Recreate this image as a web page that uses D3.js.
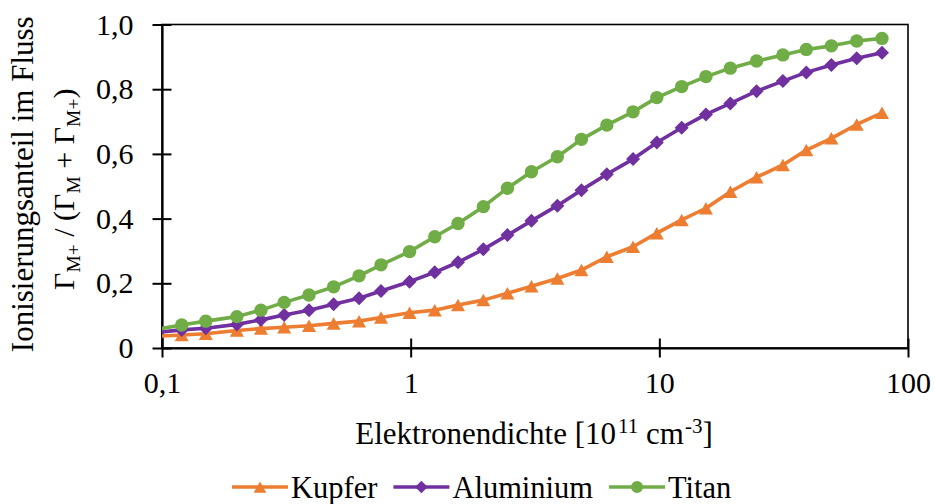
<!DOCTYPE html>
<html>
<head>
<meta charset="utf-8">
<script src="https://cdn.jsdelivr.net/npm/d3@7/dist/d3.min.js"></script>
<style>
  html, body { margin: 0; padding: 0; background: #fff; }
  svg { display: block; }
  text { font-family: "Liberation Serif", "Times New Roman", serif; fill: #000; }
</style>
</head>
<body>
<svg id="chart" width="935" height="504"></svg>
<script>
// Electron density [10^11 cm^-3] at which the ionised fraction was evaluated
const density = [0.095, 0.12, 0.15, 0.2, 0.25, 0.31, 0.39, 0.49, 0.62, 0.76, 0.99,
  1.25, 1.55, 1.96, 2.45, 3.06, 3.89, 4.86, 6.15, 7.84, 9.77,
  12.3, 15.4, 19.3, 24.6, 31.4, 39, 49.2, 62.2, 78.6];

// Ionised fraction of the metal flux  Γ_M+ / (Γ_M + Γ_M+)
const kupfer = [0.036, 0.040, 0.044, 0.054, 0.060, 0.064, 0.069, 0.076, 0.083, 0.094, 0.109,
  0.117, 0.133, 0.148, 0.169, 0.191, 0.215, 0.241, 0.282, 0.313, 0.355,
  0.396, 0.432, 0.483, 0.528, 0.566, 0.612, 0.648, 0.691, 0.727];
const aluminium = [0.048, 0.056, 0.061, 0.073, 0.087, 0.102, 0.117, 0.135, 0.154, 0.176, 0.205,
  0.234, 0.265, 0.305, 0.349, 0.393, 0.440, 0.488, 0.537, 0.584, 0.635,
  0.681, 0.722, 0.756, 0.794, 0.825, 0.852, 0.875, 0.896, 0.913];
const titan = [0.058, 0.071, 0.083, 0.097, 0.117, 0.141, 0.164, 0.189, 0.223, 0.257, 0.298,
  0.344, 0.385, 0.437, 0.494, 0.545, 0.591, 0.645, 0.689, 0.730, 0.774,
  0.808, 0.839, 0.865, 0.887, 0.906, 0.923, 0.934, 0.949, 0.957];

const seriesNames = ["Kupfer", "Aluminium", "Titan"];
const seriesColors = ["#ED7D31", "#7030A0", "#70AD47"];
const seriesShapes = ["triangle", "diamond", "circle"];

const xTicks = [0.1, 1, 10, 100];
const xTickLabels = ["0,1", "1", "10", "100"];
const yTicks = [0, 0.2, 0.4, 0.6, 0.8, 1.0];
const yTickLabels = ["0", "0,2", "0,4", "0,6", "0,8", "1,0"];

const series = seriesNames.map((name, i) => ({
  name,
  color: seriesColors[i],
  shape: seriesShapes[i],
  values: [kupfer, aluminium, titan][i].map((v, j) => ({ x: density[j], y: v }))
}));

const svg = d3.select("#chart");
const FS = 30;
const plot = { left: 162, right: 908, top: 24.5, bottom: 348 };

const x = d3.scaleLog().domain([0.1, 100]).range([plot.left, plot.right]);
const y = d3.scaleLinear().domain([0, 1]).range([plot.bottom, plot.top]);

// marker shapes, each centred on its data point
function markerPath(shape, k = 1) {
  if (shape === "triangle") {
    const w = 14 * k, h = 12.5 * k;
    return `M0,${-h / 2}L${w / 2},${h / 2}L${-w / 2},${h / 2}Z`;
  }
  if (shape === "diamond") {
    const s = 7 * k;
    return `M0,${-s}L${s},0L0,${s}L${-s},0Z`;
  }
  const r = 6.7 * k;
  return `M${r},0A${r},${r} 0 1,1 ${-r},0A${r},${r} 0 1,1 ${r},0Z`;
}

// plot area frame
svg.append("rect")
  .attr("x", plot.left).attr("y", plot.top)
  .attr("width", plot.right - plot.left).attr("height", plot.bottom - plot.top)
  .attr("fill", "none").attr("stroke", "#000").attr("stroke-width", 1.6);

svg.append("clipPath").attr("id", "plotClip")
  .append("rect")
  .attr("x", plot.left).attr("y", plot.top - 10)
  .attr("width", plot.right - plot.left + 10).attr("height", plot.bottom - plot.top + 10);

// axes with crossing tick marks
const xAxis = d3.axisBottom(x).tickValues(xTicks)
  .tickFormat((d, i) => xTickLabels[i]).tickSizeInner(9.5).tickSizeOuter(0).tickPadding(14);
const gx = svg.append("g").attr("transform", `translate(0,${plot.bottom})`).call(xAxis);
gx.select(".domain").attr("stroke-width", 2.2);
gx.selectAll(".tick line").attr("y1", -9.5).attr("stroke-width", 2);
gx.selectAll(".tick text").attr("font-size", FS).attr("font-family", "Liberation Serif");

const yAxis = d3.axisLeft(y).tickValues(yTicks)
  .tickFormat((d, i) => yTickLabels[i]).tickSizeInner(9.5).tickSizeOuter(0).tickPadding(19);
const gy = svg.append("g").attr("transform", `translate(${plot.left},0)`).call(yAxis);
gy.select(".domain").attr("stroke-width", 2.2);
gy.selectAll(".tick line").attr("x1", 9.5).attr("stroke-width", 2);
gy.selectAll(".tick text").attr("font-size", FS).attr("font-family", "Liberation Serif");

// series lines and markers
const line = d3.line().x(d => x(d.x)).y(d => y(d.y));
const gData = svg.append("g").attr("clip-path", "url(#plotClip)");
series.forEach(s => {
  gData.append("path")
    .datum(s.values)
    .attr("d", line)
    .attr("fill", "none")
    .attr("stroke", s.color)
    .attr("stroke-width", 3.6)
    .attr("stroke-linejoin", "round");
});
series.forEach(s => {
  gData.selectAll(null)
    .data(s.values.filter(d => d.x >= 0.1 && d.x <= 100))
    .join("path")
    .attr("transform", d => `translate(${x(d.x)},${y(d.y)})`)
    .attr("d", markerPath(s.shape))
    .attr("fill", s.color);
});

// x axis title
const xt = svg.append("text")
  .attr("x", (plot.left + plot.right) / 2 - 1).attr("y", 444)
  .attr("text-anchor", "middle").attr("font-size", 31);
const sup = 21;
xt.append("tspan").text("Elektronendichte [10");
xt.append("tspan").attr("font-size", sup).attr("dy", -11).attr("dx", 2).text("11");
xt.append("tspan").attr("dy", 11).text(" cm");
xt.append("tspan").attr("font-size", sup).attr("dy", -11).attr("dx", 1).text("-3");
xt.append("tspan").attr("dy", 11).text("]");

// y axis title, two lines
const cy = (plot.top + plot.bottom) / 2;
svg.append("text")
  .attr("transform", `translate(33,${cy - 2}) rotate(-90)`)
  .attr("text-anchor", "middle").attr("font-size", 31)
  .text("Ionisierungsanteil im Fluss");
const yt2 = svg.append("text")
  .attr("transform", `translate(74,${cy + 3}) rotate(-90)`)
  .attr("text-anchor", "middle").attr("font-size", FS);
const sub = FS * 0.65;
yt2.append("tspan").text("Γ");
yt2.append("tspan").attr("font-size", sub).attr("dy", 6).text("M+");
yt2.append("tspan").attr("dy", -6).text(" / (Γ");
yt2.append("tspan").attr("font-size", sub).attr("dy", 6).text("M");
yt2.append("tspan").attr("dy", -6).text(" + Γ");
yt2.append("tspan").attr("font-size", sub).attr("dy", 6).text("M+");
yt2.append("tspan").attr("dy", -6).text(")");

// legend
const legend = svg.append("g");
const lineLen = 56, gapText = 3, gapEntry = 16;
let cursor = 0;
series.forEach(s => {
  const g = legend.append("g").attr("transform", `translate(${cursor},0)`);
  g.append("line").attr("x1", 0).attr("x2", lineLen)
    .attr("stroke", s.color).attr("stroke-width", 3.6);
  g.append("path").attr("transform", `translate(${lineLen / 2},0)`)
    .attr("d", markerPath(s.shape, 0.9)).attr("fill", s.color);
  const t = g.append("text").attr("x", lineLen + gapText).attr("y", 10.5)
    .attr("font-size", 30.5).text(s.name);
  cursor += lineLen + gapText + t.node().getComputedTextLength() + gapEntry;
});
legend.attr("transform", `translate(232,487)`);
</script>
</body>
</html>
